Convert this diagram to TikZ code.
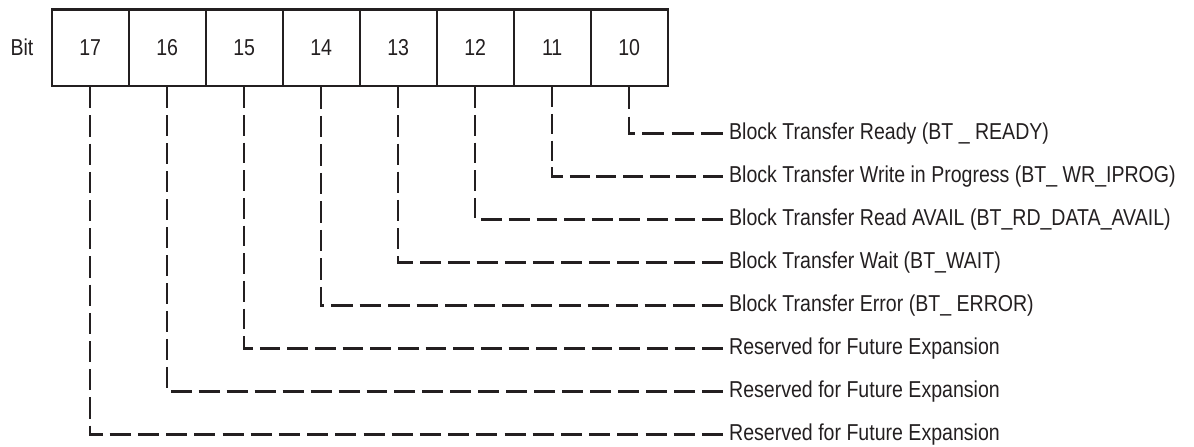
\documentclass[tikz,border=0pt]{standalone}
\usepackage{fontspec}
\setmainfont{Liberation Sans}[FakeStretch=0.85]
\definecolor{ink}{HTML}{231F20}
\begin{document}
\begin{tikzpicture}[x=1pt,y=-1pt,
  font=\fontsize{23}{27}\selectfont,
  bitbox/.style={draw=ink,line width=2.4pt,minimum width=77pt,minimum height=76.7pt,inner sep=0pt,text=ink},
  lbl/.style={anchor=west,inner xsep=6pt,inner ysep=0pt,text=ink},
  conn/.style={draw=ink,line width=2.4pt}]
\useasboundingbox (0,0) rectangle (1194,447);
\node[text=ink] (bit) at (22,47.7) {Bit};
\foreach \b [count=\i from 0] in {17,16,15,14,13,12,11,10}
  \node[bitbox] (b\b) at (90.2+77*\i,47.7) {\b};
\node[lbl] (t10) at (723,133.3) {Block Transfer Ready (BT \_ READY)};
\node[lbl] (t11) at (723,176.3) {Block Transfer Write in Progress (BT\_ WR\_IPROG)};
\node[lbl] (t12) at (723,219.3) {Block Transfer Read AVAIL (BT\_RD\_DATA\_AVAIL)};
\node[lbl] (t13) at (723,262.3) {Block Transfer Wait (BT\_WAIT)};
\node[lbl] (t14) at (723,305.3) {Block Transfer Error (BT\_ ERROR)};
\node[lbl] (t15) at (723,348.3) {Reserved for Future Expansion};
\node[lbl] (t16) at (723,391.3) {Reserved for Future Expansion};
\node[lbl] (t17) at (723,434.3) {Reserved for Future Expansion};
\foreach \b in {10,11,12,13,14,15,16,17}{
  \pgfmathsetmacro\L{(133.3+43*(\b-10)-87.2)+(723-90.2-77*(17-\b))}
  \pgfmathsetmacro\n{round((\L-21)/28)}
  \pgfmathsetmacro\on{0.75*\L/(\n+0.75)}
  \pgfmathsetmacro\off{\on/3}
  \draw[conn,dash pattern=on \on pt off \off pt] (b\b.south) |- (t\b.west);
}
\end{tikzpicture}
\end{document}
